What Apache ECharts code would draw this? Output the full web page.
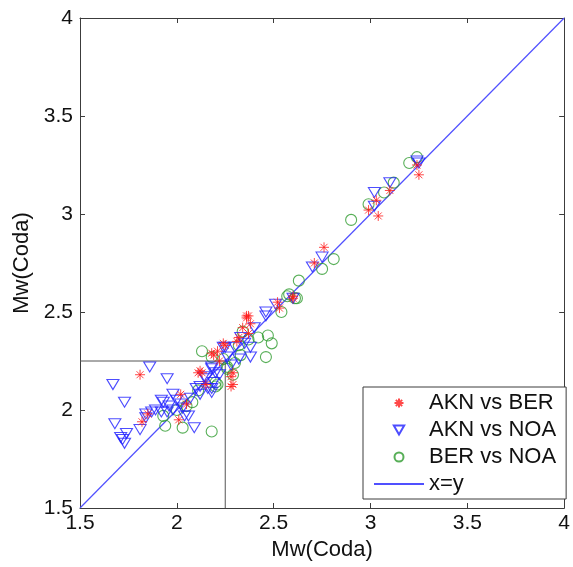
<!DOCTYPE html>
<html>
<head>
<meta charset="utf-8">
<script src="https://cdn.jsdelivr.net/npm/echarts@6/dist/echarts.min.js"></script>
<style>
html,body{margin:0;padding:0;background:#fff;}
#chart{width:573px;height:567px;}
</style>
</head>
<body>
<div id="chart"></div>
<script>
// Data (x = Mw(Coda), y = Mw(Coda))
const seriesNames = ["AKN vs BER", "AKN vs NOA", "BER vs NOA", "x=y"];

const aknBer = [
  [1.81,2.18],[1.82,1.94],[1.85,1.98],[2.01,1.95],[2.02,2.08],[2.11,2.19],[2.13,2.19],
  [2.12,2.20],[2.18,2.29],[2.19,2.28],[2.21,2.30],[2.24,2.34],[2.25,2.33],[2.28,2.17],
  [2.28,2.12],[2.29,2.19],[2.29,2.13],[2.31,2.35],[2.32,2.37],[2.34,2.42],[2.36,2.47],
  [2.36,2.48],[2.38,2.44],[2.37,2.39],[2.37,2.48],[2.52,2.55],[2.53,2.52],[2.60,2.57],
  [2.60,2.58],[2.71,2.75],[2.76,2.83],[2.99,3.02],[3.03,3.07],[3.04,2.99],[3.10,3.12],
  [3.24,3.25],[3.25,3.20],[2.05,2.03],[2.15,2.13],[2.22,2.25]
];

const aknNoa = [
  [1.67,2.13],[1.73,2.04],[1.86,2.22],[1.95,2.16],[1.68,1.93],[1.74,1.88],[1.72,1.85],
  [1.73,1.83],[1.71,1.86],[1.81,1.90],[1.84,1.96],[1.84,1.98],[1.87,1.99],[1.89,2.00],
  [1.92,1.99],[1.93,2.04],[1.92,2.05],[1.96,2.02],[1.98,2.08],[2.00,2.05],[2.02,2.03],
  [2.04,1.97],[2.06,1.97],[2.09,1.91],[2.07,2.06],[2.10,2.11],[2.12,2.08],[2.15,2.16],
  [2.14,2.17],[2.16,2.11],[2.18,2.09],[2.18,2.11],[2.18,2.21],[2.18,2.22],[2.19,2.14],
  [2.22,2.18],[2.24,2.32],[2.25,2.32],[2.28,2.23],[2.30,2.32],[2.32,2.26],[2.33,2.37],
  [2.38,2.32],[2.38,2.27],[2.40,2.42],[2.46,2.50],[2.46,2.48],[2.51,2.54],[2.60,2.57],
  [2.70,2.73],[2.75,2.78],[3.02,3.04],[3.02,3.11],[3.10,3.16],[3.24,3.27],[3.25,3.26],
  [1.95,1.99],[1.98,2.00],[2.03,2.01],[2.12,2.12],[2.20,2.19],[2.26,2.27],[2.35,2.34]
];

const berNoa = [
  [1.93,1.97],[1.94,1.92],[2.03,1.91],[2.08,2.04],[2.13,2.30],[2.18,1.89],[2.18,2.27],
  [2.20,2.14],[2.20,2.12],[2.21,2.13],[2.26,2.21],[2.26,2.22],[2.29,2.18],[2.30,2.24],
  [2.33,2.28],[2.34,2.40],[2.37,2.36],[2.42,2.37],[2.46,2.27],[2.47,2.38],[2.49,2.34],
  [2.54,2.50],[2.57,2.58],[2.58,2.59],[2.61,2.57],[2.62,2.57],[2.63,2.66],[2.75,2.72],
  [2.81,2.77],[2.90,2.97],[2.99,3.05],[3.07,3.11],[3.12,3.16],[3.20,3.26],[3.24,3.29],
  [2.11,2.10],[2.05,2.02],[2.00,2.00],[2.24,2.26],[2.32,2.33]
];

const identityLine = [[1.5,1.5],[4,4]];
const thresholdBox = [[1.5,2.25],[2.25,2.25],[2.25,1.5]];

const axisMin = 1.5, axisMax = 4, axisStep = 0.5;
const axisTitle = "Mw(Coda)";

const starPath = 'path://M5,0V10M0,5H10M1.5,1.5L8.5,8.5M1.5,8.5L8.5,1.5';
const triPath = 'path://M0,0L10,0L5,8.66Z';

const FONT = 'Liberation Sans, Arial, sans-serif';
const axisColor = '#3c3c3c';
const baseAxis = {
  type: 'value', min: axisMin, max: axisMax, interval: axisStep,
  splitLine: {show: false},
  axisLine: {show: true, onZero: false, lineStyle: {color: axisColor, width: 1}},
  axisTick: {show: true, inside: true, length: 5, lineStyle: {color: axisColor}},
};

const chart = echarts.init(document.getElementById('chart'), null, {renderer: 'canvas'});
chart.setOption({
  animation: false,
  backgroundColor: '#fff',
  textStyle: {fontFamily: FONT},
  grid: {left: 80, top: 18, width: 489, height: 490, containLabel: false},
  xAxis: [
    Object.assign({}, baseAxis, {
      position: 'bottom',
      name: axisTitle, nameLocation: 'middle', nameGap: 28,
      nameTextStyle: {fontSize: 22, color: '#111', fontFamily: FONT},
      axisLabel: {fontSize: 21, color: '#111', margin: 5, fontFamily: FONT}
    }),
    Object.assign({}, baseAxis, {position: 'top', axisLabel: {show: false}})
  ],
  yAxis: [
    Object.assign({}, baseAxis, {
      position: 'left',
      name: axisTitle, nameLocation: 'middle', nameGap: 41, nameRotate: 90,
      nameTextStyle: {fontSize: 22, color: '#111', fontFamily: FONT},
      axisLabel: {fontSize: 21, color: '#111', margin: 7, fontFamily: FONT}
    }),
    Object.assign({}, baseAxis, {position: 'right', axisLabel: {show: false}})
  ],
  legend: {
    data: [
      {name: seriesNames[0]},
      {name: seriesNames[1]},
      {name: seriesNames[2]},
      {name: seriesNames[3], itemStyle: {opacity: 0}}
    ],
    orient: 'vertical',
    left: 363, top: 387,
    width: 199,
    padding: [5, 10, 4, 10],
    itemGap: 5,
    itemWidth: 50, itemHeight: 9,
    backgroundColor: '#fff',
    borderColor: axisColor, borderWidth: 1, borderRadius: 0,
    textStyle: {fontSize: 22, color: '#111', fontFamily: FONT}
  },
  series: [
    {
      name: 'threshold', type: 'line', data: thresholdBox, symbol: 'none',
      lineStyle: {color: '#555', width: 1}, silent: true, z: 1
    },
    {
      name: seriesNames[3], type: 'line', data: identityLine, symbol: 'none',
      lineStyle: {color: '#5050ff', width: 1.2}, itemStyle: {color: '#5050ff'}, z: 2
    },
    {
      name: seriesNames[2], type: 'scatter', data: berNoa,
      symbol: 'circle', symbolSize: 11,
      itemStyle: {color: 'rgba(0,0,0,0)', borderColor: '#2e9b2e', borderWidth: 1.1}, z: 3
    },
    {
      name: seriesNames[1], type: 'scatter', data: aknNoa,
      symbol: triPath, symbolSize: [12, 10],
      itemStyle: {color: 'rgba(0,0,0,0)', borderColor: '#2020ff', borderWidth: 1.1}, z: 4
    },
    {
      name: seriesNames[0], type: 'scatter', data: aknBer,
      symbol: starPath, symbolSize: 10,
      itemStyle: {color: 'rgba(0,0,0,0)', borderColor: '#ff1a1a', borderWidth: 1}, z: 5
    }
  ]
});
</script>
</body>
</html>
